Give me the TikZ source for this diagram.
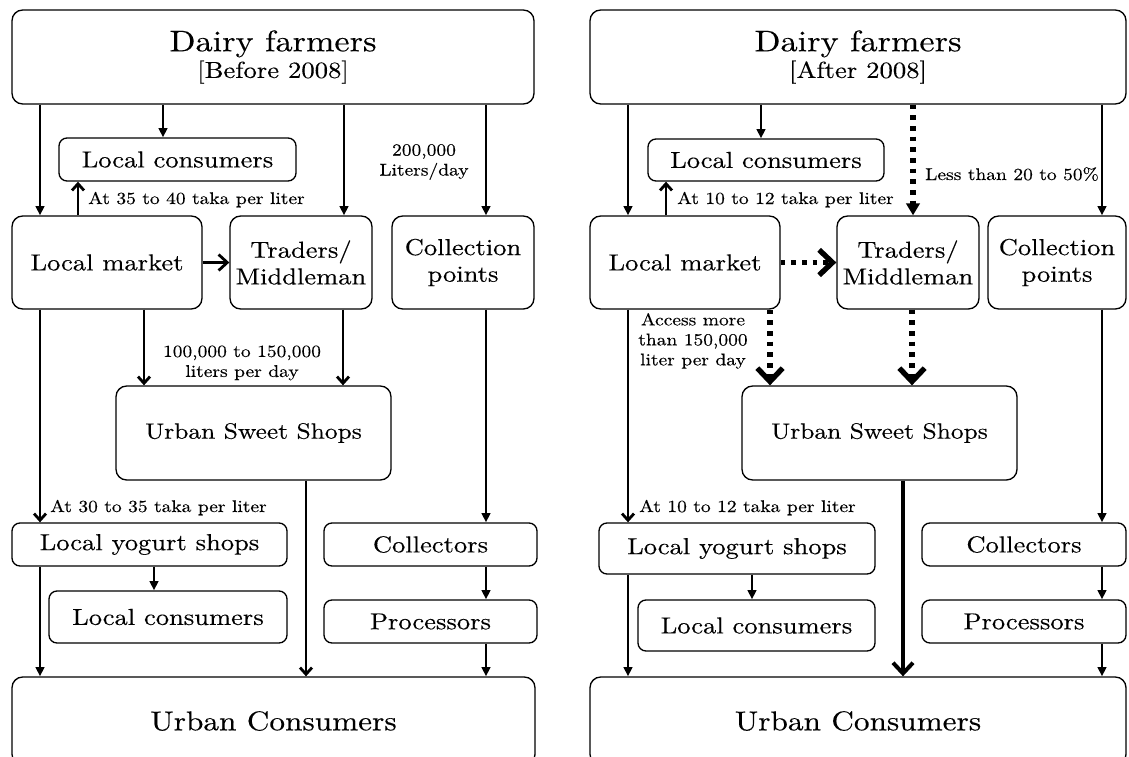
\documentclass[tikz,border=0pt]{standalone}
\usepackage{fontspec}
\setmainfont{lmroman10-regular.otf}[FakeStretch=1.15,FakeBold=0.3]
\usetikzlibrary{arrows.meta}

\newcommand\fsz[2]{\fontsize{#1}{#2}\selectfont}
% box: [options]{name}{left}{top}{right}{bottom}{text}, corners in pixel units
\newcommand\placebox[7][]{%
  \node[box,#1,minimum width={(#5-#3)*0.75pt},minimum height={(#6-#4)*0.75pt}]
    (#2) at ({(#3+#5)/2},{(#4+#6)/2}) {#7};}

\tikzset{
  box/.style={draw, line width=1pt, rounded corners=6pt, inner sep=0pt,
              align=center, font=\fsz{17.3}{20}},
  bigbox/.style={rounded corners=8pt},
  lbl/.style={inner sep=0pt, align=center, font=\fsz{12.7}{15}},
  conn/.style={line width=2.1pt},
  tri/.style={conn, -{Triangle[length=7pt,width=6.5pt]}},
  chev/.style={conn, -{Straight Barb[length=5pt,width=9pt]}},
  widechev/.style={conn, -{Straight Barb[length=6.5pt,width=12pt]}},
  dotline/.style={line width=4pt, dash pattern=on 3.5pt off 4.5pt},
  dotchev/.style={dotline, -{Straight Barb[length=10pt,width=19pt,line width=4pt]}},
  dottri/.style={dotline, -{Triangle[length=9pt,width=10pt]}},
  heavychev/.style={line width=3pt, -{Straight Barb[length=8pt,width=15pt]}},
}

\begin{document}
\begin{tikzpicture}[x=0.75pt,y=-0.75pt]
\useasboundingbox (0,0) rectangle (1129,757);
\clip (0,0) rectangle (1129,757);

% ---------------- before 2008 ----------------
\placebox[bigbox]{dfL}{12}{10}{534}{104}{{\fsz{22.3}{20}Dairy farmers}\\{\fsz{17.4}{20}[Before 2008]}}
\placebox{lcaL}{59}{138}{296}{181}{Local consumers}
\placebox[bigbox]{lmL}{12}{216}{202}{309}{Local market}
\placebox[bigbox]{trL}{230}{216}{372}{309}{Traders/\\Middleman}
\placebox[bigbox]{cpL}{392}{216}{534}{309}{Collection\\points}
\placebox[bigbox,font=\fsz{16.6}{20}]{swL}{116}{386}{391}{480}{Urban Sweet Shops}
\placebox{ysL}{12}{523}{287}{566}{Local yogurt shops}
\placebox{lcbL}{49}{591}{287}{643}{Local consumers}
\placebox{coL}{324}{523}{537}{566}{Collectors}
\placebox{prL}{324}{600}{537}{643}{Processors}
\placebox[bigbox,font=\fsz{20.4}{24}]{ucL}{12}{677}{535}{765}{Urban Consumers}

\node[lbl, anchor=base west] (priceaL) at (88,204) {At 35 to 40 taka per liter};
\node[lbl] (volL) at (424,162) {200,000\\Liters/day};
\node[lbl] (sweetvolL) at (242,363) {100,000 to 150,000\\liters per day};
\node[lbl, anchor=base west] (pricebL) at (50,512) {At 30 to 35 taka per liter};

\draw[tri] (dfL.south -| 40,0) -- (lmL.north -| 40,0);
\draw[tri] (dfL.south -| 163,0) -- (lcaL.north -| 163,0);
\draw[tri] (dfL.south -| 344,0) -- (trL.north -| 344,0);
\draw[tri] (dfL.south -| 486,0) -- (cpL.north -| 486,0);
\draw[chev] (lmL.north -| 78,0) -- (lcaL.south -| 78,0);
\draw[widechev] (lmL.east) -- (trL.west);
\draw[chev] (lmL.south -| 40,0) -- (ysL.north -| 40,0);
\draw[chev] (lmL.south -| 144,0) -- (swL.north -| 144,0);
\draw[chev] (trL.south -| 343,0) -- (swL.north -| 343,0);
\draw[tri] (cpL.south -| 486,0) -- (coL.north -| 486,0);
\draw[chev] (swL.south -| 306,0) -- (ucL.north -| 306,0);
\draw[tri] (ysL.south -| 154,0) -- (lcbL.north -| 154,0);
\draw[tri] (ysL.south -| 40,0) -- (ucL.north -| 40,0);
\draw[tri] (coL.south -| 486,0) -- (prL.north -| 486,0);
\draw[tri] (prL.south -| 486,0) -- (ucL.north -| 486,0);

% ---------------- after 2008 ----------------
\placebox[bigbox]{dfR}{590}{10}{1126}{104}{{\fsz{22.3}{20}Dairy farmers}\\{\fsz{17.4}{20}[After 2008]}}
\placebox{lcaR}{648}{139}{884}{181}{Local consumers}
\placebox[bigbox]{lmR}{590}{216}{780}{309}{Local market}
\placebox[bigbox]{trR}{837}{216}{979}{309}{Traders/\\Middleman}
\placebox[bigbox]{cpR}{988}{216}{1126}{309}{Collection\\points}
\placebox[bigbox,font=\fsz{16.6}{20}]{swR}{742}{386}{1017}{480}{Urban Sweet Shops}
\placebox{ysR}{599}{523}{875}{574}{Local yogurt shops}
\placebox{lcbR}{638}{600}{875}{651}{Local consumers}
\placebox{coR}{922}{523}{1126}{566}{Collectors}
\placebox{prR}{922}{600}{1126}{643}{Processors}
\placebox[bigbox,font=\fsz{20.4}{24}]{ucR}{590}{677}{1126}{765}{Urban Consumers}

\node[lbl, anchor=base west] (priceaR) at (677,204) {At 10 to 12 taka per liter};
\node[lbl, anchor=base west] (shareR) at (925,180) {Less than 20 to 50\%};
\node[lbl] (accessR) at (693,341) {Access more\\than 150,000\\liter per day};
\node[lbl, anchor=base west] (pricebR) at (639,512) {At 10 to 12 taka per liter};

\draw[tri] (dfR.south -| 628,0) -- (lmR.north -| 628,0);
\draw[tri] (dfR.south -| 761,0) -- (lcaR.north -| 761,0);
\draw[dottri] (dfR.south -| 913,0) -- (trR.north -| 913,0);
\draw[tri] (dfR.south -| 1102,0) -- (cpR.north -| 1102,0);
\draw[chev] (lmR.north -| 666,0) -- (lcaR.south -| 666,0);
\draw[dotchev] (lmR.east) -- (trR.west);
\draw[chev] (lmR.south -| 628,0) -- (ysR.north -| 628,0);
\draw[dotchev] (lmR.south -| 770,0) -- (swR.north -| 770,0);
\draw[dotchev] (trR.south -| 912,0) -- (swR.north -| 912,0);
\draw[tri] (cpR.south -| 1102,0) -- (coR.north -| 1102,0);
\draw[heavychev] (swR.south -| 903,0) -- (ucR.north -| 903,0);
\draw[tri] (ysR.south -| 752,0) -- (lcbR.north -| 752,0);
\draw[tri] (ysR.south -| 628,0) -- (ucR.north -| 628,0);
\draw[tri] (coR.south -| 1102,0) -- (prR.north -| 1102,0);
\draw[tri] (prR.south -| 1102,0) -- (ucR.north -| 1102,0);
\end{tikzpicture}
\end{document}
